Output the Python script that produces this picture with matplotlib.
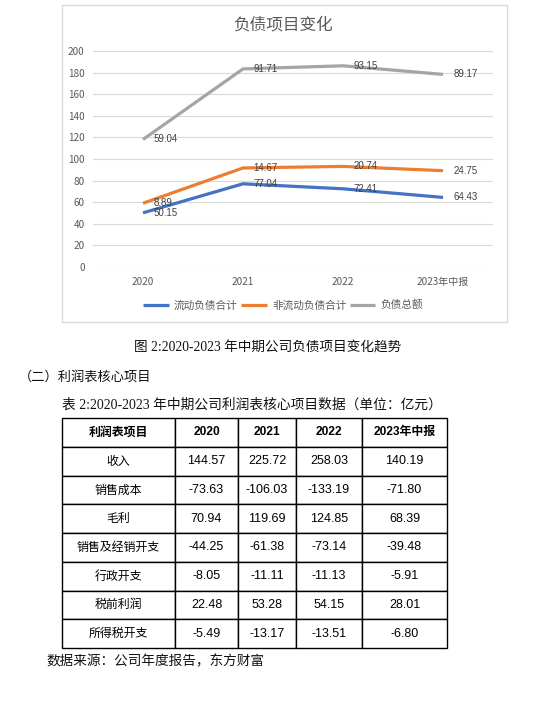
import matplotlib.pyplot as plt
import numpy as np

plt.rcParams['font.family'] = ['Noto Sans CJK SC', 'DejaVu Sans']

W, H = 553, 707
DPI = 100

# 负债数据（亿元）- 图表为堆积折线图
years = ['2020', '2021', '2022', '2023年中报']
current_liab = [50.15, 77.04, 72.41, 64.43]      # 流动负债合计
noncurrent_liab = [8.89, 14.67, 20.74, 24.75]    # 非流动负债合计
total_liab = [59.04, 91.71, 93.15, 89.17]        # 负债总额
series_names = ['流动负债合计', '非流动负债合计', '负债总额']
series_colors = ['#4472C4', '#ED7D31', '#A5A5A5']
y_ticks = [0, 20, 40, 60, 80, 100, 120, 140, 160, 180, 200]

# 利润表数据（亿元）
table_header = ['利润表项目', '2020', '2021', '2022', '2023年中报']
row_names = ['收入', '销售成本', '毛利', '销售及经销开支', '行政开支', '税前利润', '所得税开支']
v2020 = ['144.57', '-73.63', '70.94', '-44.25', '-8.05', '22.48', '-5.49']
v2021 = ['225.72', '-106.03', '119.69', '-61.38', '-11.11', '53.28', '-13.17']
v2022 = ['258.03', '-133.19', '124.85', '-73.14', '-11.13', '54.15', '-13.51']
v2023 = ['140.19', '-71.80', '68.39', '-39.48', '-5.91', '28.01', '-6.80']


def fx(px):
    return px / W


def fy(py):
    return 1 - py / H


fig = plt.figure(figsize=(W / DPI, H / DPI), dpi=DPI)

# 图表外框
frame = plt.Rectangle((fx(62), fy(322)), fx(507) - fx(62), fy(5) - fy(322),
                      transform=fig.transFigure, fill=False,
                      edgecolor='#D9D9D9', linewidth=1)
fig.patches.append(frame)

ax = fig.add_axes([fx(93), fy(267), fx(493) - fx(93), fy(51) - fy(267)])
x = np.arange(len(years))
stack = np.cumsum(np.array([current_liab, noncurrent_liab, total_liab]), axis=0)
labels = [current_liab, noncurrent_liab, total_liab]

for i in range(3):
    ax.plot(x, stack[i], color=series_colors[i], linewidth=2.3,
            label=series_names[i], solid_capstyle='butt', zorder=3)
    for xi, yi, v in zip(x, stack[i], labels[i]):
        ax.annotate(f'{v:.2f}', (xi, yi), xytext=(7.5, 0), textcoords='offset points',
                    ha='left', va='center', fontsize=7, color='#404040',
                    family=['Liberation Sans', 'Noto Sans CJK SC'], zorder=4)

ax.set_xlim(-0.5, 3.5)
ax.set_ylim(0, 200)
ax.set_yticks(y_ticks)
ax.set_xticks(x)
ax.set_xticklabels(years)
ax.grid(axis='y', color='#D9D9D9', linewidth=0.8)
ax.set_axisbelow(True)
for s in ax.spines.values():
    s.set_visible(False)
ax.tick_params(length=0, labelsize=7.2, colors='#595959')
ax.tick_params(axis='y', pad=6)
ax.tick_params(axis='x', pad=7)

fig.text(fx(283), fy(25), '负债项目变化', ha='center', va='center',
         fontsize=12, color='#595959')

fig.legend(loc='center', bbox_to_anchor=(fx(283), fy(305)), ncol=3, frameon=False,
           fontsize=7.7, labelcolor='#595959', handlelength=2.4, handletextpad=0.5,
           columnspacing=0.3)

# 文字部分
serif = ['Liberation Serif', 'Noto Sans CJK SC']
fig.text(fx(268), fy(348), '图 2:2020-2023 年中期公司负债项目变化趋势', ha='center',
         va='center', fontsize=9.8, family=serif, color='#111111')
fig.text(fx(19), fy(377), '（二）利润表核心项目', ha='left', va='center',
         fontsize=9.5, family=serif, color='#111111')
fig.text(fx(252), fy(405), '表 2:2020-2023 年中期公司利润表核心项目数据（单位：亿元）',
         ha='center', va='center', fontsize=9.9, family=serif, color='#111111')
fig.text(fx(46), fy(662), '数据来源：公司年度报告，东方财富', ha='left', va='center',
         fontsize=9.8, family=serif, color='#111111')

# 表格
tax = fig.add_axes([fx(62), fy(648), fx(447) - fx(62), fy(418) - fy(648)])
tax.axis('off')
cell_text = [list(r) for r in zip(row_names, v2020, v2021, v2022, v2023)]
col_w = np.array([113, 63, 58, 66, 85], dtype=float)
tbl = tax.table(cellText=cell_text, colLabels=table_header, colWidths=col_w / col_w.sum(),
                cellLoc='center', bbox=[0, 0, 1, 1])
tbl.auto_set_font_size(False)
for (r, c), cell in tbl.get_celld().items():
    cell.set_edgecolor('black')
    cell.set_linewidth(1.0)
    t = cell.get_text()
    if r == 0:
        t.set_fontsize(8.6)
        t.set_fontweight('bold')
        t.set_family(['Liberation Sans', 'Noto Sans CJK SC'])
    elif c == 0:
        t.set_fontsize(8.6)
        t.set_fontweight('light')
    else:
        t.set_fontsize(9)
        t.set_family(['Liberation Sans', 'Noto Sans CJK SC'])

fig.savefig('out.png', dpi=DPI)
